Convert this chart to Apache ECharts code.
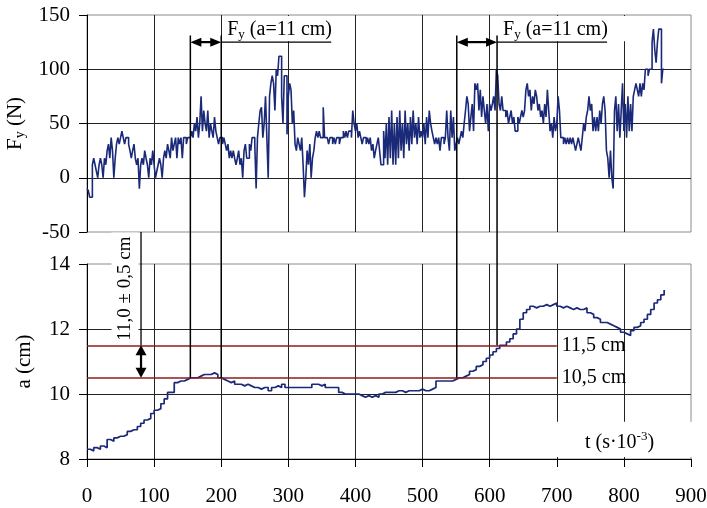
<!DOCTYPE html>
<html><head><meta charset="utf-8">
<script src="https://cdn.jsdelivr.net/npm/echarts@6/dist/echarts.min.js"></script>
<style>html,body{margin:0;padding:0;background:#fff}#c{width:707px;height:508px}</style>
</head><body><div id="c"></div>
<script>
// ---- data ----
const xTickValues = [0, 100, 200, 300, 400, 500, 600, 700, 800, 900];
const fyStep = 2; // sampling step of Fy (t units)
const fyValues = [
  -10, -12, -18, -18, 12, 18, 12, 6, 0, 12,
  18, 12, 0, 18, 12, 25, 31, 18, 37, 25,
  0, 18, 31, 37, 31, 37, 43, 37, 31, 37,
  37, 31, 25, 18, 25, 31, 18, 12, 18, -10,
  12, 18, 12, 25, 18, 12, 0, 18, 12, 25,
  12, 0, 6, 12, 18, 12, 0, 18, 25, 18,
  31, 25, 18, 37, 25, 31, 37, 18, 37, 31,
  37, 18, 37, 37, 31, 37, 37, 37, 43, 37,
  50, 43, 56, 37, 50, 75, 43, 62, 50, 43,
  62, 37, 50, 43, 37, 56, 43, 37, 31, 37,
  37, 31, 37, 31, 25, 31, 18, 25, 18, 25,
  18, 12, 18, 25, 12, 18, 0, 25, 31, 18,
  18, 31, 25, 37, 37, 31, -10, 37, 50, 62,
  65, 37, 50, 75, 37, 0, 75, 87, 94, 87,
  62, 100, 94, 112, 112, 75, 50, 94, 94, 40,
  75, 87, 81, 50, 62, 31, 25, 37, 31, 25,
  37, 12, -18, 0, 25, 12, 31, 0, 18, 25,
  37, 43, 37, 43, 37, 37, 65, 37, 37, 37,
  31, 37, 37, 31, 37, 31, 37, 37, 31, 37,
  37, 43, 37, 43, 37, 43, 43, 37, 62, 50,
  43, 50, 37, 43, 37, 31, 37, 37, 31, 37,
  31, 37, 25, 31, 18, 25, 31, 37, 25, 12,
  12, 43, 18, 50, 12, 56, 18, 62, 12, 50,
  12, 56, 18, 62, 25, 50, 18, 62, 31, 50,
  25, 56, 31, 62, 37, 50, 31, 56, 37, 43,
  37, 50, 31, 56, 37, 62, 50, 43, 37, 31,
  37, 31, 37, 25, 37, 37, 31, 37, 62, 37,
  25, 62, 37, 56, 25, 31, 37, 31, 37, 43,
  37, 50, 62, 75, 68, 43, 56, 68, 43, 87,
  81, 87, 62, 81, 56, 75, 62, 50, 68, 43,
  68, 62, 68, 75, 62, 100, 94, 68, 62, 75,
  62, 62, 56, 62, 50, 56, 62, 50, 56, 43,
  43, 56, 50, 56, 62, 56, 62, 81, 87, 75,
  81, 62, 75, 68, 81, 75, 62, 68, 56, 62,
  50, 68, 56, 81, 62, 43, 50, 37, 56, 43,
  50, 75, 62, 37, 37, 31, 37, 31, 37, 31,
  37, 31, 37, 31, 25, 31, 37, 31, 25, 37,
  50, 43, 56, 62, 75, 62, 68, 43, 56, 43,
  56, 43, 62, 50, 68, 75, 62, 25, 18, 0,
  25, 0, -10, 62, 75, 43, 68, 37, 62, 87,
  43, 68, 37, 75, 43, 68, 43, 75, 81, 87,
  81, 75, 87, 75, 87, 81, 100, 100, 94, 100,
  100, 125, 137, 118, 106, 125, 137, 137, 87, 100,
  100
];
const aStep = 5; // sampling step of a (t units)
const aValues = [
  8.3, 8.25, 8.35, 8.3, 8.4, 8.35, 8.6, 8.55, 8.65, 8.7,
  8.7, 8.75, 8.85, 8.9, 8.9, 9.0, 9.1, 9.2, 9.25, 9.4,
  9.5, 9.55, 9.7, 9.85, 10.05, 10.05, 10.35, 10.4, 10.4, 10.45,
  10.5, 10.5, 10.5, 10.55, 10.6, 10.6, 10.6, 10.65, 10.6, 10.5,
  10.45, 10.4, 10.35, 10.4, 10.3, 10.3, 10.25, 10.3, 10.25, 10.2,
  10.2, 10.15, 10.2, 10.2, 10.1, 10.2, 10.25, 10.2, 10.3, 10.2,
  10.2, 10.2, 10.2, 10.2, 10.2, 10.2, 10.2, 10.3, 10.3, 10.25,
  10.3, 10.2, 10.2, 10.2, 10.2, 10.05, 10.0, 10.0, 10.0, 10.0,
  10.0, 9.95, 9.9, 9.95, 9.9, 9.95, 9.9, 10.0, 10.05, 10.05,
  10.05, 10.05, 10.1, 10.1, 10.05, 10.1, 10.1, 10.1, 10.1, 10.15,
  10.1, 10.1, 10.15, 10.2, 10.4, 10.4, 10.4, 10.4, 10.4, 10.45,
  10.5, 10.5, 10.55, 10.6, 10.7, 10.75, 10.85, 10.9, 11.0, 11.1,
  11.2, 11.3, 11.4, 11.5, 11.5, 11.6, 11.7, 11.85, 12.0, 12.3,
  12.5, 12.6, 12.7, 12.65, 12.7, 12.7, 12.75, 12.7, 12.75, 12.8,
  12.7, 12.65, 12.7, 12.65, 12.6, 12.65, 12.6, 12.6, 12.65, 12.5,
  12.45, 12.35, 12.3, 12.2, 12.2, 12.15, 12.1, 12.05, 12.0, 11.9,
  11.85, 11.8, 11.95, 12.05, 12.1, 12.2, 12.3, 12.45, 12.6, 12.8,
  12.9, 13.05, 13.2
];
const tolLevels = [10.5, 11.5];
const tolLabels = ['10,5 cm', '11,5 cm'];
const tolEndT = 700;
const markerT = [154, 200, 551, 611];
const markerEndA = [10.5, 10.5, 10.5, 11.5];
const markerTopFy = 131;
const arrowFy = 125;
const tolArrowT = 80.5;

// ---- chart ----
const FONT = '"Liberation Serif", "Times New Roman", serif';
const splitStyle = { show: true, showMinLine: false, showMaxLine: false, lineStyle: { color: '#222', width: 1 } };
const labelStyle = { fontSize: 21, fontFamily: FONT, color: '#000' };
const chart = echarts.init(document.getElementById('c'));
const option = {
  animation: false,
  grid: [
    { left: 87, top: 15, width: 604, height: 217, show: true, borderColor: '#8a8a8a', borderWidth: 1, containLabel: false, outerBoundsMode: 'none' },
    { left: 87, top: 264, width: 604, height: 195, show: true, borderColor: '#8a8a8a', borderWidth: 1, containLabel: false, outerBoundsMode: 'none' }
  ],
  xAxis: [
    { gridIndex: 0, type: 'value', min: 0, max: 900, interval: 100,
      axisLine: { show: false }, axisTick: { show: false }, axisLabel: { show: false }, splitLine: splitStyle },
    { gridIndex: 1, type: 'value', min: 0, max: 900, interval: 100,
      axisLine: { show: true, onZero: false, lineStyle: { color: '#000', width: 1 } },
      axisTick: { show: true, length: 8, lineStyle: { color: '#000' } },
      axisLabel: Object.assign({ margin: 27, formatter: v => xTickValues.includes(v) ? String(v) : '' }, labelStyle),
      splitLine: splitStyle }
  ],
  yAxis: [
    { gridIndex: 0, type: 'value', min: -50, max: 150, interval: 50,
      axisLine: { show: true, onZero: false, lineStyle: { color: '#000', width: 1 } },
      axisTick: { show: true, length: 8, lineStyle: { color: '#000' } },
      axisLabel: Object.assign({ margin: 17 }, labelStyle),
      splitLine: splitStyle,
      name: '{a|F}{s|y}{a| (N)}', nameLocation: 'middle', nameGap: 52, nameRotate: 90,
      nameTextStyle: { rich: {
        a: { fontSize: 21, fontFamily: FONT, color: '#000', lineHeight: 24 },
        s: { fontSize: 14, fontFamily: FONT, color: '#000', lineHeight: 14, verticalAlign: 'bottom' } } } },
    { gridIndex: 1, type: 'value', min: 8, max: 14, interval: 2,
      axisLine: { show: true, onZero: false, lineStyle: { color: '#000', width: 1 } },
      axisTick: { show: true, length: 8, lineStyle: { color: '#000' } },
      axisLabel: Object.assign({ margin: 17 }, labelStyle),
      splitLine: splitStyle,
      name: 'a (cm)', nameLocation: 'middle', nameGap: 52, nameRotate: 90,
      nameTextStyle: { fontSize: 21, fontFamily: FONT, color: '#000', padding: [0, 0, 0, 0] } }
  ],
  series: [
    { type: 'line', xAxisIndex: 0, yAxisIndex: 0, step: 'end', symbol: 'none', z: 3,
      data: fyValues.map((v, i) => [i * fyStep, v]),
      lineStyle: { color: '#1b2a78', width: 1.6 } },
    { type: 'line', xAxisIndex: 1, yAxisIndex: 1, step: 'end', symbol: 'none', z: 3,
      data: aValues.map((v, i) => [i * aStep, v]),
      lineStyle: { color: '#1b2a78', width: 1.7 },
      markLine: { silent: true, symbol: 'none', animation: false,
        lineStyle: { color: '#8e1c1c', width: 1.5, type: 'solid' },
        label: { show: true, position: 'end', distance: 5, formatter: p => p.name, fontSize: 20, fontFamily: FONT, color: '#000' },
        data: tolLevels.map((lv, i) => [{ coord: [0, lv], name: tolLabels[i] }, { coord: [tolEndT, lv] }]) } }
  ]
};
chart.setOption(option);

// ---- annotations (positions via the chart's own scales) ----
const px = (g, x, y) => chart.convertToPixel({ gridIndex: g }, [x, y]);
const els = [];
function line(p1, p2, w) {
  els.push({ type: 'line', z: 100, shape: { x1: p1[0], y1: p1[1], x2: p2[0], y2: p2[1] }, style: { stroke: '#000', lineWidth: w } });
}
function head(tip, dx, dy, L, W) {
  const bx = tip[0] - dx * L, by = tip[1] - dy * L, nx = -dy, ny = dx;
  els.push({ type: 'polygon', z: 101, shape: { points: [[tip[0], tip[1]], [bx + nx * W, by + ny * W], [bx - nx * W, by - ny * W]] }, style: { fill: '#000' } });
}
const richSub = {
  a: { fontSize: 20, fontFamily: FONT, fill: '#000', lineHeight: 22 },
  s: { fontSize: 13, fontFamily: FONT, fill: '#000', lineHeight: 13, verticalAlign: 'bottom' }
};
for (let k = 0; k < markerT.length; k++) {
  line(px(0, markerT[k], markerTopFy), px(1, markerT[k], markerEndA[k]), 1.5);
}
for (let k = 0; k < markerT.length; k += 2) {
  const pL = px(0, markerT[k], arrowFy), pR = px(0, markerT[k + 1], arrowFy);
  line([pL[0] + 6, pL[1]], [pR[0] - 6, pR[1]], 2.2);
  head(pL, -1, 0, 11, 4.5);
  head(pR, 1, 0, 11, 4.5);
  const topY = px(0, markerT[k + 1], 150)[1];
  els.push({ type: 'rect', z: 99, shape: { x: pR[0] + 1.5, y: topY + 1, width: 130, height: pR[1] - topY - 2 }, style: { fill: '#fff' } });
  line(pR, [pR[0] + 110, pR[1]], 1.2);
  els.push({ type: 'text', z: 102, x: pR[0] + 6, y: pR[1] - 1,
    style: { text: '{a|F}{s|y}{a| (a=11 cm)}', rich: richSub, align: 'left', verticalAlign: 'bottom' } });
}
// tolerance arrow
const t1 = px(1, tolArrowT, tolLevels[1]), t2 = px(1, tolArrowT, tolLevels[0]);
line([t1[0], t1[1] + 6], [t2[0], t2[1] - 6], 2.2);
head(t1, 0, -1, 10, 5.5);
head(t2, 0, 1, 10, 5.5);
const tTop = px(0, tolArrowT, -50);
line(tTop, t1, 1.3);
els.push({ type: 'text', z: 102, x: t1[0] - 16, y: (tTop[1] + t1[1]) / 2, rotation: Math.PI / 2,
  style: { text: '11,0 \u00b1 0,5 cm', fontSize: 19, fontFamily: FONT, fill: '#000', align: 'center', verticalAlign: 'middle',
    backgroundColor: '#fff', padding: [4, 4, 3, 4], lineHeight: 20 } });
// t axis label
const bx1 = px(1, 692, 9.15), bx2 = px(1, 900, 8.06);
els.push({ type: 'rect', z: 99, shape: { x: bx1[0], y: bx1[1], width: bx2[0] - bx1[0] + 3, height: bx2[1] - bx1[1] }, style: { fill: '#fff' } });
const tl = px(1, 742, 8.5);
els.push({ type: 'text', z: 102, x: tl[0], y: tl[1],
  style: { text: '{a|t (s\u00b710}{p|-3}{a|)}', align: 'left', verticalAlign: 'middle', rich: {
    a: { fontSize: 20, fontFamily: FONT, fill: '#000', lineHeight: 26 },
    p: { fontSize: 13, fontFamily: FONT, fill: '#000', lineHeight: 13, verticalAlign: 'top' } } } });
chart.setOption({ graphic: { elements: els } });
</script></body></html>
